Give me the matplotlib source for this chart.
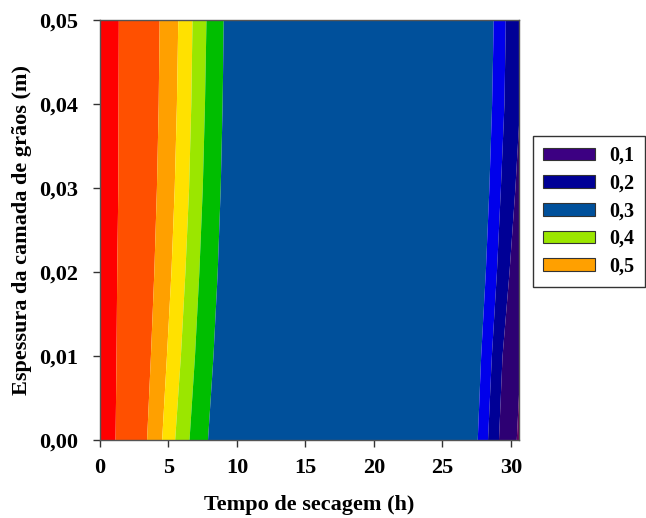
import matplotlib.pyplot as plt
from matplotlib.patches import Patch
from matplotlib.ticker import FuncFormatter

plt.rcParams['font.family'] = ['Liberation Serif', 'DejaVu Serif']
plt.rcParams['font.weight'] = 'bold'

# layer thickness (m) where the contour positions were taken
thickness = [0.00, 0.01, 0.02, 0.03, 0.04, 0.05]

# drying time (h) of each contour line at those thicknesses, left to right
line_1 = [1.10, 1.17, 1.22, 1.30, 1.32, 1.34]
line_2 = [3.40, 3.68, 3.93, 4.12, 4.25, 4.32]
line_3 = [4.50, 4.85, 5.18, 5.42, 5.58, 5.68]
line_4 = [5.45, 5.87, 6.20, 6.47, 6.63, 6.72]
line_5 = [6.50, 6.90, 7.22, 7.47, 7.63, 7.74]
line_6 = [7.85, 8.25, 8.56, 8.78, 8.92, 9.00]
line_7 = [27.55, 27.80, 28.14, 28.40, 28.60, 28.72]
line_8 = [28.30, 28.58, 28.95, 29.24, 29.50, 29.60]
line_9 = [29.10, 29.36, 29.87, 30.30, 30.65, 30.95]
line_10 = [30.40, 30.70, 31.20, 31.70, 32.20, 32.60]

contour_lines = [line_1, line_2, line_3, line_4, line_5,
                 line_6, line_7, line_8, line_9, line_10]

band_colors = ['#ff0000', '#ff5000', '#ffa000', '#ffe100', '#9be600',
               '#00be00', '#00509b', '#0000eb', '#000096', '#2d0073',
               '#640064']

legend_labels = ['0,1', '0,2', '0,3', '0,4', '0,5']
legend_colors = ['#3c0082', '#000096', '#00509b', '#9be600', '#ffa000']

fig = plt.figure(figsize=(6.46, 5.18), dpi=100)
ax = fig.add_axes([100 / 646, 78 / 518, 419 / 646, 420 / 518])

x_right = 30.6
edges = [[0.0] * len(thickness)] + contour_lines + [[40.0] * len(thickness)]
for i, color in enumerate(band_colors):
    ax.fill_betweenx(thickness, edges[i], edges[i + 1], color=color,
                     linewidth=0, antialiased=True)

ax.set_xlim(0, x_right)
ax.set_ylim(0, 0.05)
ax.set_xticks([0, 5, 10, 15, 20, 25, 30])
ax.set_yticks([0.00, 0.01, 0.02, 0.03, 0.04, 0.05])
ax.yaxis.set_major_formatter(FuncFormatter(lambda v, _: f'{v:.2f}'.replace('.', ',')))
ax.tick_params(direction='out', length=5, width=1, labelsize=16,
               colors='#333333', labelcolor='black')
ax.tick_params(axis='x', pad=8)
ax.tick_params(axis='y', pad=11)
for s in ax.spines.values():
    s.set_color('#555555')
    s.set_linewidth(1)

ax.set_xlabel('Tempo de secagem (h)', fontsize=16, fontweight='bold', labelpad=12)
ax.set_ylabel('Espessura da camada de grãos (m)', fontsize=16, fontweight='bold',
              labelpad=5)

handles = [Patch(facecolor=c, edgecolor='#333333', linewidth=0.8) for c in legend_colors]
fig.legend(handles, legend_labels, loc='upper left',
           bbox_to_anchor=(533 / 646, 1 - 136 / 518),
           prop={'size': 14.5, 'weight': 'bold'}, fancybox=False,
           edgecolor='#333333', framealpha=1, handlelength=2.6,
           handleheight=0.6, handletextpad=0.7, labelspacing=0.38,
           borderpad=0.5, borderaxespad=0)

fig.savefig('out.png', dpi=100)
